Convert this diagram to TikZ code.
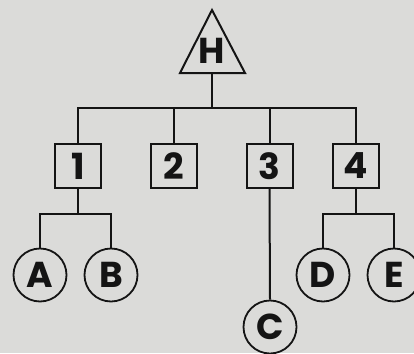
\documentclass[tikz,border=0pt]{standalone}
\usepackage{fontspec}
\setmainfont{Poppins}
\definecolor{paper}{RGB}{219,219,217}
\definecolor{ink}{RGB}{20,20,20}
\tikzset{
  box/.style={draw=ink, line width=2pt, minimum width=46pt, minimum height=44pt, inner sep=0pt},
  leaf/.style={draw=ink, circle, line width=1.8pt, minimum size=53pt, inner sep=0pt},
  lbl/.style={text=ink, font=\fontsize{36}{36}\selectfont\bfseries, inner sep=0pt},
  wire/.style={draw=ink, line width=2pt}
}
\begin{document}
\begin{tikzpicture}[x=1pt,y=-1pt]
    \fill [paper] (0,0) rectangle (414,353);
    \useasboundingbox (0,0) rectangle (414,353);
    % root triangle
    \coordinate (Htop) at (212,10);
    \coordinate (Hbase) at (212,73);
    \draw [ink, line width=2pt, line join=miter] (Htop) -- (245,73) -- (180,73) -- cycle;
    \node [lbl] (H) at (212,51) {H};
    % second row
    \node [box] (b1) at (78,166) {};
    \node [lbl] at (b1) {1};
    \node [box] (b2) at (173.5,166) {};
    \node [lbl] at (b2) {2};
    \node [box] (b3) at (269.5,166) {};
    \node [lbl] at (b3) {3};
    \node [box] (b4) at (356,166) {};
    \node [lbl] at (b4) {4};
    % leaves
    \node [leaf] (A) at (40,275) {};
    \node [lbl] at (A) {A};
    \node [leaf] (B) at (111,275) {};
    \node [lbl] at (B) {B};
    \node [leaf] (C) at (270,327) {};
    \node [lbl] at (C) {C};
    \node [leaf] (D) at (323,275) {};
    \node [lbl] at (D) {D};
    \node [leaf] (E) at (394,275) {};
    \node [lbl] at (E) {E};
    % connectors
    \coordinate (j0) at (212,108);
    \coordinate (j1) at (78,214);
    \coordinate (j4) at (356,214);
    \draw [wire] (Hbase) -- (j0);
    \draw [wire] (b1.north) |- (j0) -| (b4.north);
    \draw [wire] (b2.north) -- (b2.north |- j0);
    \draw [wire] (b3.north) -- (b3.north |- j0);
    \draw [wire] (b1.south) -- (j1);
    \draw [wire] (A.north) |- (j1) -| (B.north);
    \draw [wire] (b3.south) -- (C.north);
    \draw [wire] (b4.south) -- (j4);
    \draw [wire] (D.north) |- (j4) -| (E.north);
\end{tikzpicture}
\end{document}
